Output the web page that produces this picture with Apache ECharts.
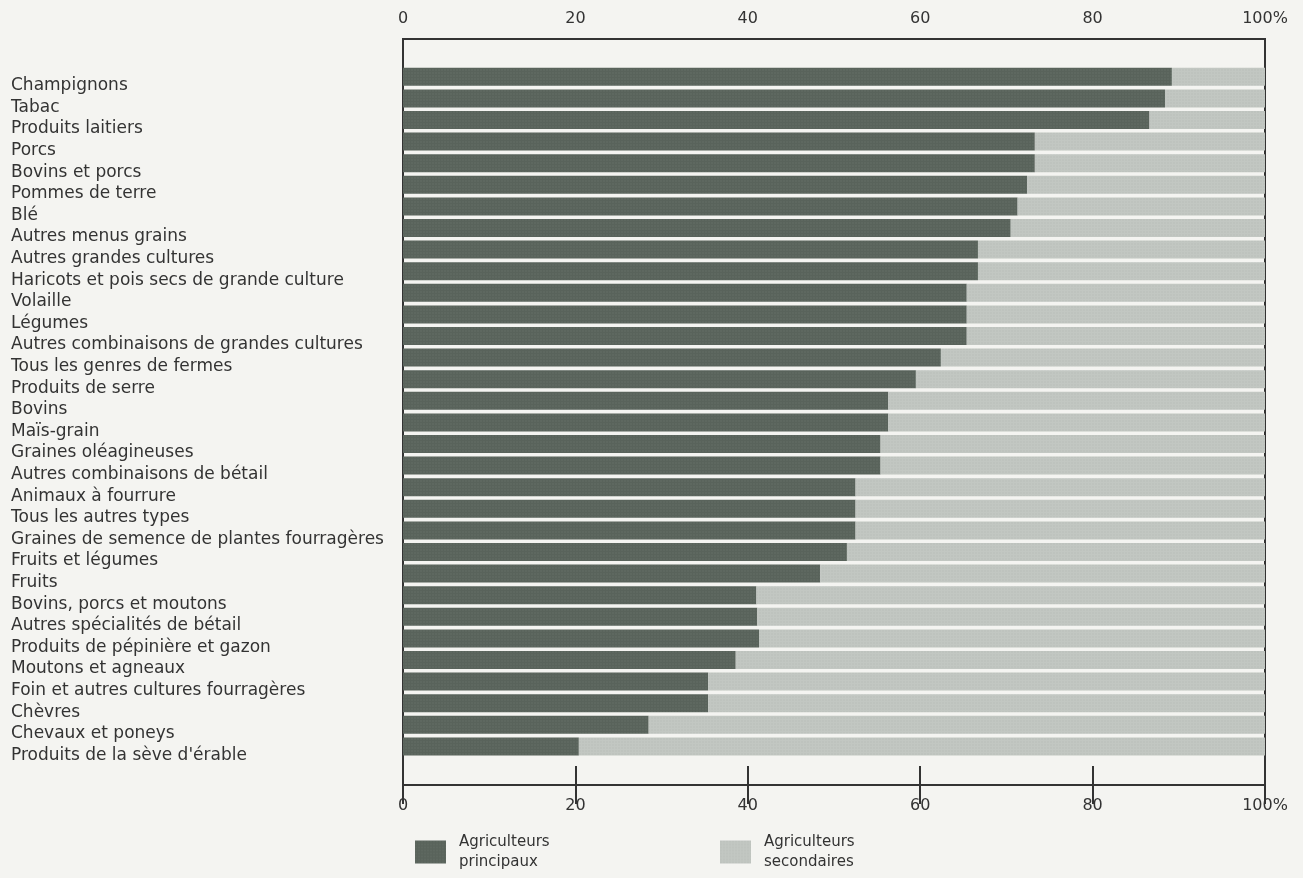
<!DOCTYPE html>
<html>
<head>
<meta charset="utf-8">
<script src="https://cdn.jsdelivr.net/npm/echarts@6/dist/echarts.min.js"></script>
<style>
html,body{margin:0;padding:0;background:#f4f4f1;}
#chart{width:1303px;height:878px;}
</style>
</head>
<body>
<div id="chart"></div>
<script>
const categories = [
  "Champignons",
  "Tabac",
  "Produits laitiers",
  "Porcs",
  "Bovins et porcs",
  "Pommes de terre",
  "Blé",
  "Autres menus grains",
  "Autres grandes cultures",
  "Haricots et pois secs de grande culture",
  "Volaille",
  "Légumes",
  "Autres combinaisons de grandes cultures",
  "Tous les genres de fermes",
  "Produits de serre",
  "Bovins",
  "Maïs-grain",
  "Graines oléagineuses",
  "Autres combinaisons de bétail",
  "Animaux à fourrure",
  "Tous les autres types",
  "Graines de semence de plantes fourragères",
  "Fruits et légumes",
  "Fruits",
  "Bovins, porcs et moutons",
  "Autres spécialités de bétail",
  "Produits de pépinière et gazon",
  "Moutons et agneaux",
  "Foin et autres cultures fourragères",
  "Chèvres",
  "Chevaux et poneys",
  "Produits de la sève d'érable"
];
const principaux = [89.2, 88.4, 86.6, 73.3, 73.3, 72.4, 71.3, 70.5, 66.7, 66.7, 65.4, 65.4, 65.4, 62.4, 59.5, 56.3, 56.3, 55.4, 55.4, 52.5, 52.5, 52.5, 51.5, 48.4, 41.0, 41.1, 41.3, 38.6, 35.4, 35.4, 28.5, 20.4];
const secondaires = [10.8, 11.6, 13.4, 26.7, 26.7, 27.6, 28.7, 29.5, 33.3, 33.3, 34.6, 34.6, 34.6, 37.6, 40.5, 43.7, 43.7, 44.6, 44.6, 47.5, 47.5, 47.5, 48.5, 51.6, 59.0, 58.9, 58.7, 61.4, 64.6, 64.6, 71.5, 79.6];
const tickValues = [0, 20, 40, 60, 80, 100];
const seriesNames = ["Agriculteurs principaux", "Agriculteurs secondaires"];

const FONT = "DejaVu Sans";
const TXT = "#333";
const chart = echarts.init(document.getElementById('chart'));

function tickLabel(v) { return v === 100 ? '100%' : String(v); }

const frameAxis = (pos, margin) => ({
  type: 'value', gridIndex: 0, position: pos, min: 0, max: 100, interval: 20,
  axisLine: { show: false },
  axisTick: { show: true, inside: true, length: 19, lineStyle: { color: '#333', width: 2 } },
  splitLine: { show: false },
  axisLabel: { fontFamily: FONT, fontSize: 16, color: TXT, margin: margin, formatter: tickLabel }
});

const legendText = { fontFamily: FONT, fontSize: 15, color: TXT, lineHeight: 20, padding: [10, 0, 0, 8] };

chart.setOption({
  backgroundColor: '#f4f4f1',
  animation: false,
  grid: [
    { left: 403, right: 38, top: 39, bottom: 93, show: true, borderColor: '#333', borderWidth: 2, backgroundColor: 'transparent' },
    { left: 403, right: 38, top: 66, height: 691.2 }
  ],
  xAxis: [
    frameAxis('top', 12),
    frameAxis('bottom', 13),
    { type: 'value', gridIndex: 1, min: 0, max: 100, show: false }
  ],
  yAxis: [
    { type: 'value', gridIndex: 0, show: false, min: 0, max: 1 },
    {
      type: 'category', gridIndex: 1, data: categories, inverse: true,
      axisLine: { show: false }, axisTick: { show: false },
      axisLabel: { interval: 0, hideOverlap: false, align: 'left', verticalAlign: 'top', margin: 392, fontFamily: FONT, fontSize: 17, color: TXT, lineHeight: 18 }
    }
  ],
  legend: [
    {
      data: [seriesNames[0]], left: 410, top: 822, itemWidth: 31, itemHeight: 23, icon: 'rect',
      formatter: n => n.replace(' ', '\n'), textStyle: legendText
    },
    {
      data: [seriesNames[1]], left: 715, top: 822, itemWidth: 31, itemHeight: 23, icon: 'rect',
      formatter: n => n.replace(' ', '\n'), textStyle: legendText
    }
  ],
  series: [
    {
      name: seriesNames[0], type: 'bar', stack: 'total', xAxisIndex: 2, yAxisIndex: 1,
      data: principaux, barWidth: 18,
      itemStyle: {
        color: '#59635b',
        decal: { symbol: 'rect', symbolSize: 0.6, dashArrayX: [2, 1], dashArrayY: [2, 1], color: 'rgba(200,210,200,0.18)' }
      }
    },
    {
      name: seriesNames[1], type: 'bar', stack: 'total', xAxisIndex: 2, yAxisIndex: 1,
      data: secondaires, barWidth: 18,
      itemStyle: {
        color: '#c2c7c2',
        decal: { symbol: 'rect', symbolSize: 0.6, dashArrayX: [2, 1], dashArrayY: [2, 1], color: 'rgba(120,130,120,0.15)' }
      }
    }
  ]
});
</script>
</body>
</html>
